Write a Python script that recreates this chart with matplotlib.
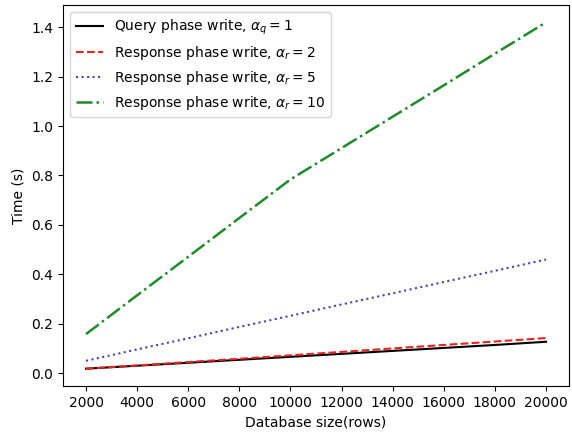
import matplotlib
matplotlib.use('Agg')
import matplotlib.pyplot as plt

# database sizes (rows)
sizes = [2000, 4000, 6000, 8000, 10000, 12000, 14000, 16000, 18000, 20000]

# times in seconds
query_a1 = [0.018, 0.030, 0.042, 0.054, 0.066, 0.078, 0.090, 0.102, 0.114, 0.127]
resp_a2 = [0.018, 0.031, 0.045, 0.058, 0.072, 0.086, 0.100, 0.114, 0.128, 0.142]
resp_a5 = [0.050, 0.096, 0.141, 0.187, 0.232, 0.278, 0.323, 0.369, 0.414, 0.460]
resp_a10 = [0.158, 0.315, 0.471, 0.628, 0.784, 0.911, 1.038, 1.165, 1.293, 1.420]

labels = [
    r'Query phase write, $\alpha_q = 1$',
    r'Response phase write, $\alpha_r = 2$',
    r'Response phase write, $\alpha_r = 5$',
    r'Response phase write, $\alpha_r = 10$',
]


def main():
    fig = plt.figure(figsize=(5.72, 4.34), dpi=100)
    ax = fig.add_axes([63 / 572, 48 / 434, 506 / 572, 381 / 434])

    ax.plot(sizes, query_a1, color='k', linestyle='-', label=labels[0])
    ax.plot(sizes, resp_a2, color='#e8231e', linestyle='--', label=labels[1])
    ax.plot(sizes, resp_a5, color='#4a40c0', linestyle=':', label=labels[2])
    ax.plot(sizes, resp_a10, color='#1f8a2a', linestyle='-.', linewidth=1.8, label=labels[3])

    ax.set_xticks(range(2000, 20001, 2000))
    ax.set_xlabel('Database size(rows)')
    ax.set_ylabel('Time (s)')
    ax.legend(loc='upper left')

    fig.savefig('out.png', dpi=100)


if __name__ == "__main__":
    main()
